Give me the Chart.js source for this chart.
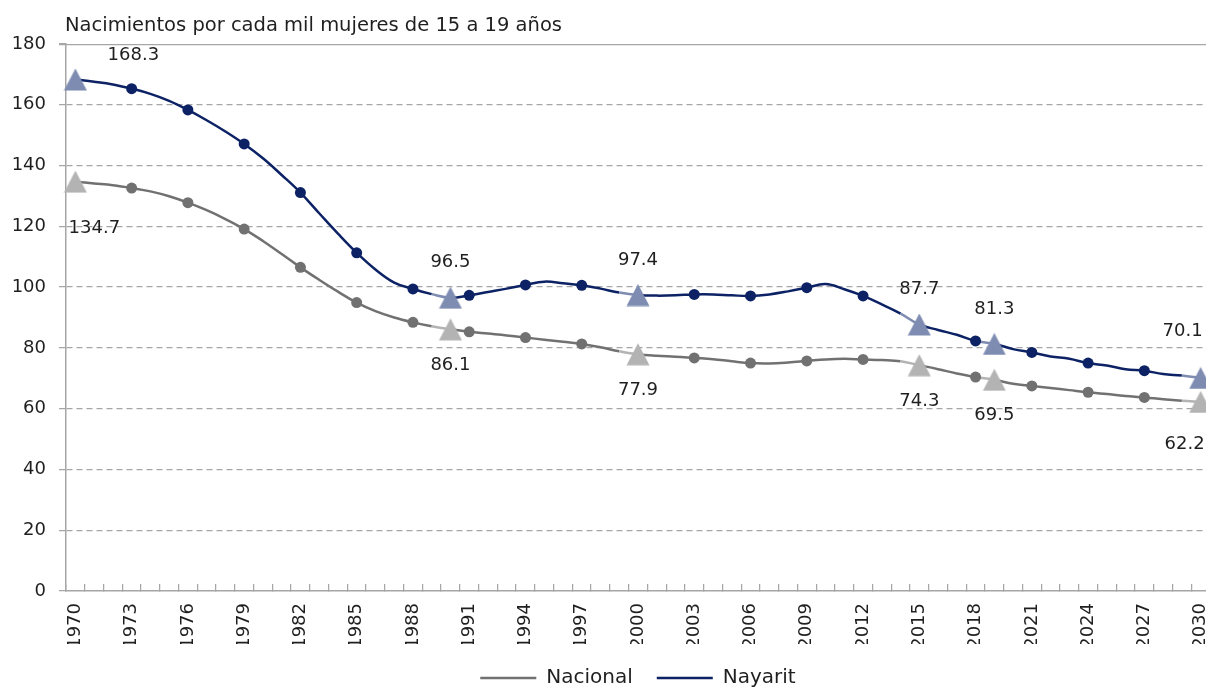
<!DOCTYPE html>
<html lang="es">
<head>
<meta charset="utf-8">
<title>Tasa de fecundidad adolescente: Nayarit y nacional, 1970-2030</title>
<script src="https://cdn.jsdelivr.net/npm/chart.js@4.4.1/dist/chart.umd.min.js"></script>
<style>
  html, body { margin: 0; padding: 0; background: #ffffff; overflow: hidden; }
  #wrap { position: relative; width: 1206px; height: 688px; overflow: hidden; }
  #chart { display: block; position: absolute; left: 0; top: 0; }
</style>
</head>
<body>
<div id="wrap"><canvas id="chart" width="1221" height="688"></canvas></div>
<script>
// Años de la serie (una categoría por año)
const years = [
  1970, 1971, 1972, 1973, 1974, 1975, 1976, 1977, 1978, 1979,
  1980, 1981, 1982, 1983, 1984, 1985, 1986, 1987, 1988, 1989,
  1990, 1991, 1992, 1993, 1994, 1995, 1996, 1997, 1998, 1999,
  2000, 2001, 2002, 2003, 2004, 2005, 2006, 2007, 2008, 2009,
  2010, 2011, 2012, 2013, 2014, 2015, 2016, 2017, 2018, 2019,
  2020, 2021, 2022, 2023, 2024, 2025, 2026, 2027, 2028, 2029,
  2030
];

// Nacimientos por cada mil mujeres de 15 a 19 años
const nacional = [
  134.7, 134.1, 133.5, 132.6, 131.5, 129.9, 127.8, 125.3, 122.4, 119.1,
  115.2, 110.9, 106.5, 102.4, 98.5, 94.9, 92.1, 90.0, 88.4, 87.1,
  86.1, 85.3, 84.7, 84.1, 83.4, 82.7, 82.0, 81.3, 80.2, 78.9,
  77.9, 77.4, 77.1, 76.7, 76.3, 75.6, 75.0, 74.9, 75.2, 75.7,
  76.2, 76.4, 76.2, 76.0, 75.6, 74.3, 73.0, 71.6, 70.4, 69.5,
  68.2, 67.5, 66.8, 66.1, 65.4, 64.8, 64.2, 63.7, 63.1, 62.6,
  62.2
];

const nayarit = [
  168.3, 167.6, 166.7, 165.3, 163.6, 161.3, 158.3, 154.9, 151.2, 147.1,
  142.4, 136.9, 131.1, 124.3, 117.6, 111.3, 105.8, 101.5, 99.4, 97.7,
  96.5, 97.3, 98.4, 99.5, 100.7, 101.8, 101.3, 100.6, 99.5, 98.2,
  97.4, 97.2, 97.3, 97.6, 97.6, 97.3, 97.1, 97.6, 98.6, 99.8,
  101.0, 99.3, 97.1, 94.3, 91.3, 87.7, 85.9, 84.3, 82.3, 81.3,
  79.6, 78.5, 77.2, 76.4, 75.0, 74.2, 73.0, 72.5, 71.4, 70.9,
  70.1
];

// Años destacados (triángulo + etiqueta de valor) y años con marcador circular
const highlightYears = [1970, 1990, 2000, 2015, 2019, 2030];
const markerYears = [1973, 1976, 1979, 1982, 1985, 1988, 1991, 1994, 1997,
                     2003, 2006, 2009, 2012, 2018, 2021, 2024, 2027];

// Etiquetas del eje horizontal (cada tres años) y del eje vertical
const tickLabelYears = [1970, 1973, 1976, 1979, 1982, 1985, 1988, 1991, 1994, 1997,
                        2000, 2003, 2006, 2009, 2012, 2015, 2018, 2021, 2024, 2027, 2030];
const yTicks = [0, 20, 40, 60, 80, 100, 120, 140, 160, 180];

const chartTitle = 'Nacimientos por cada mil mujeres de 15 a 19 años';
const seriesNames = ['Nacional', 'Nayarit'];

// ---- estilo ----
const FONT = '"DejaVu Sans", "Noto Sans", sans-serif';
const TEXT = '#1f1f1f';
const GRID = '#a6a6a6';
const styles = {
  Nacional: { line: '#717171', light: '#b3b3b3' },
  Nayarit:  { line: '#0c2265', light: '#7e8cb1' }
};
// desplazamiento (px) de cada etiqueta de valor respecto a su punto
const labelOffsets = {
  Nayarit:  { 1970: [58, -24], 2030: [-18, -47], other: [0, -35] },
  Nacional: { 1970: [19, 47],  2030: [-16, 42],  other: [0, 36] }
};

function triangleImage(color) {
  const c = document.createElement('canvas');
  c.width = 24; c.height = 23;
  const g = c.getContext('2d');
  g.fillStyle = color;
  g.beginPath();
  g.moveTo(12, 0.5);
  g.lineTo(23.5, 22.5);
  g.lineTo(0.5, 22.5);
  g.closePath();
  g.fill();
  return c;
}

function makeDataset(name, values) {
  const st = styles[name];
  const tri = triangleImage(st.light);
  return {
    label: name,
    data: values,
    borderColor: st.line,
    backgroundColor: st.line,
    borderWidth: 2.5,
    tension: 0.4,
    pointStyle: years.map(y => highlightYears.includes(y) ? tri : 'circle'),
    pointRadius: years.map(y => highlightYears.includes(y) ? 11 : (markerYears.includes(y) ? 5.5 : 0)),
    pointBorderWidth: 0,
    pointBackgroundColor: st.line,
    segment: {
      borderColor: c => highlightYears.includes(years[c.p1DataIndex]) ? st.light : undefined
    }
  };
}

// Título sobre el área de trazado, alineado con el eje vertical
const titlePlugin = {
  id: 'chartTitle',
  afterDraw(chart) {
    const { ctx, chartArea } = chart;
    ctx.save();
    ctx.font = '19.5px ' + FONT;
    ctx.fillStyle = TEXT;
    ctx.textAlign = 'left';
    ctx.textBaseline = 'alphabetic';
    ctx.fillText(chartTitle, chartArea.left - 1, 31);
    ctx.restore();
  }
};

// Línea continua en el valor máximo del eje vertical
const topLinePlugin = {
  id: 'topLine',
  beforeDatasetsDraw(chart) {
    const { ctx, chartArea, scales } = chart;
    const y = Math.round(scales.y.getPixelForValue(yTicks[yTicks.length - 1])) + 0.5;
    ctx.save();
    ctx.strokeStyle = GRID;
    ctx.lineWidth = 1.25;
    ctx.beginPath();
    ctx.moveTo(chartArea.left - 7, y);
    ctx.lineTo(chartArea.right, y);
    ctx.stroke();
    ctx.restore();
  }
};

// Etiquetas de valor en los años destacados
const valueLabelPlugin = {
  id: 'valueLabels',
  afterDatasetsDraw(chart) {
    const { ctx } = chart;
    ctx.save();
    ctx.font = '18px ' + FONT;
    ctx.fillStyle = TEXT;
    ctx.textAlign = 'center';
    ctx.textBaseline = 'middle';
    chart.data.datasets.forEach((ds, di) => {
      const meta = chart.getDatasetMeta(di);
      const offs = labelOffsets[ds.label];
      highlightYears.forEach(yr => {
        const i = years.indexOf(yr);
        const pt = meta.data[i];
        const o = offs[yr] || offs.other;
        ctx.fillText(ds.data[i].toFixed(1), pt.x + o[0], pt.y + o[1]);
      });
    });
    ctx.restore();
  }
};

new Chart(document.getElementById('chart'), {
  type: 'line',
  data: {
    labels: years.map(String),
    datasets: [makeDataset(seriesNames[0], nacional), makeDataset(seriesNames[1], nayarit)]
  },
  plugins: [titlePlugin, topLinePlugin, valueLabelPlugin],
  options: {
    responsive: false,
    devicePixelRatio: 1,
    animation: false,
    events: [],
    layout: { padding: { top: 44, left: 0, right: 3, bottom: -10 } },
    scales: {
      x: {
        type: 'category',
        offset: true,
        grid: {
          offset: true,
          drawOnChartArea: false,
          drawTicks: true,
          tickLength: -7,
          color: GRID,
          lineWidth: 1.25
        },
        border: { color: GRID, width: 1.5 },
        ticks: {
          autoSkip: false,
          minRotation: 90,
          maxRotation: 90,
          padding: 19,
          color: TEXT,
          font: { family: FONT, size: 18 },
          callback: (v, i) => tickLabelYears.includes(years[i]) ? String(years[i]) : ''
        },
        afterFit: s => { s.height = 53; s.paddingLeft = 0; s.paddingRight = 0; }
      },
      y: {
        min: yTicks[0],
        max: yTicks[yTicks.length - 1],
        afterBuildTicks: s => { s.ticks = yTicks.map(v => ({ value: v })); },
        grid: {
          color: c => (c.tick && (c.tick.value === yTicks[0] || c.tick.value === yTicks[yTicks.length - 1])) ? 'rgba(0,0,0,0)' : GRID,
          tickColor: GRID,
          lineWidth: 1.25,
          drawTicks: true,
          tickLength: 7
        },
        border: { color: GRID, width: 1.5, dash: [6, 4] },
        ticks: {
          padding: 13,
          color: TEXT,
          font: { family: FONT, size: 18 }
        },
        afterFit: s => { s.width = 66; }
      }
    },
    plugins: {
      title: { display: false },
      tooltip: { enabled: false },
      legend: {
        position: 'bottom',
        fullSize: false,
        labels: {
          usePointStyle: true,
          pointStyleWidth: 56,
          padding: 24,
          color: TEXT,
          font: { family: FONT, size: 20 },
          generateLabels: chart => chart.data.datasets.map((ds, i) => ({
            text: ds.label,
            datasetIndex: i,
            pointStyle: 'line',
            strokeStyle: ds.borderColor,
            fillStyle: ds.borderColor,
            lineWidth: 2.5,
            fontColor: TEXT,
            hidden: false
          }))
        }
      }
    }
  }
});
</script>
</body>
</html>
